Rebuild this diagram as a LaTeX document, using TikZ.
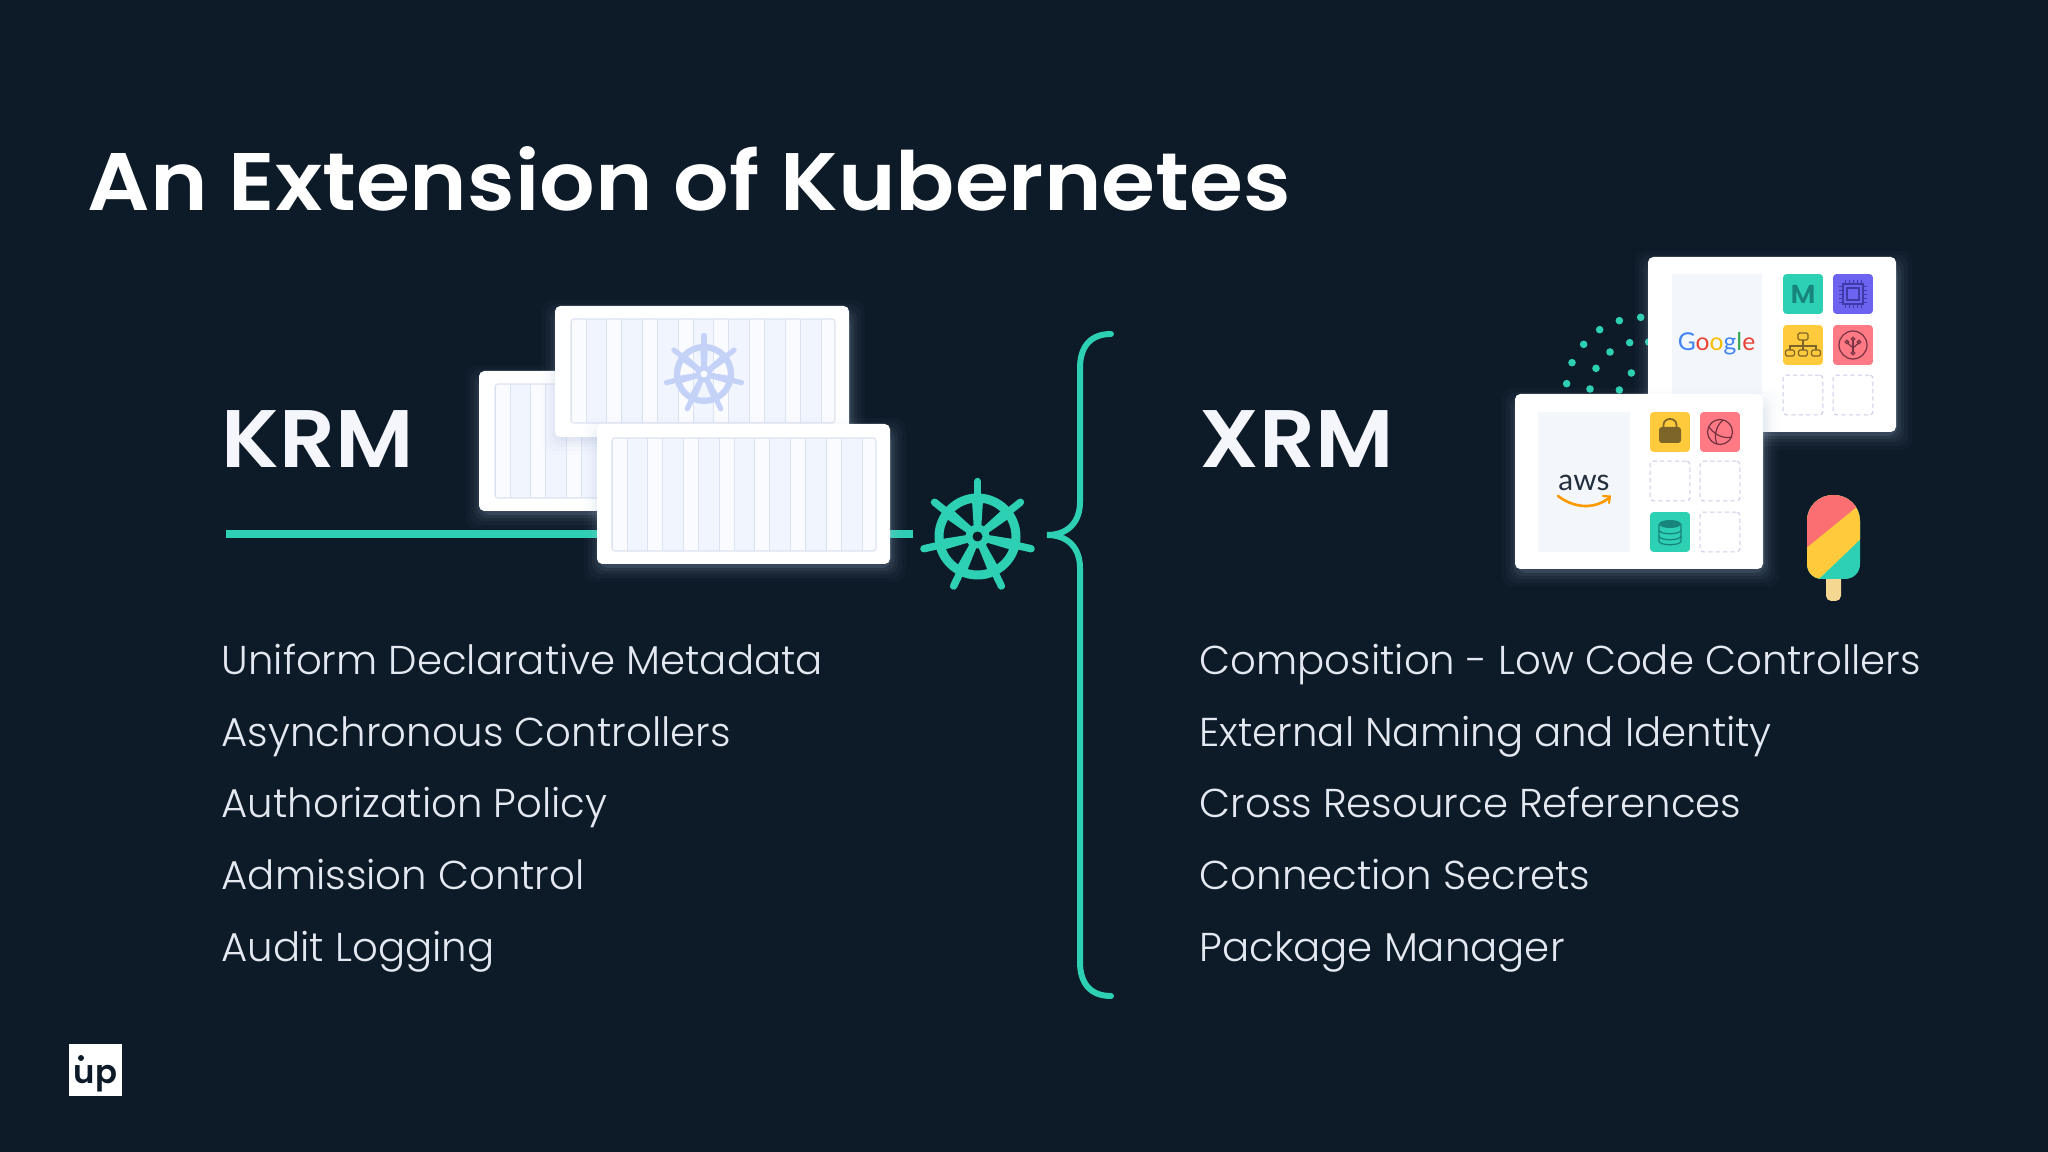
\documentclass[tikz,border=0pt]{standalone}
\usepackage{fontspec}
\setmainfont{Poppins}[BoldFont=* SemiBold]
\newfontfamily\lightfont{Poppins}[UprightFont=* Light]
\newfontfamily\headfont{Poppins}[UprightFont=* SemiBold, FakeStretch=1.07]
\newfontfamily\logofont{Lato}
\usetikzlibrary{calc}

\definecolor{bgdark}{HTML}{0D1B29}
\definecolor{teal}{HTML}{2DD0B3}
\definecolor{sunny}{HTML}{FFCB3D}
\definecolor{coral}{HTML}{FF7A85}
\definecolor{melon}{HTML}{FB6F72}
\definecolor{violet}{HTML}{6C63F0}
\definecolor{listtext}{HTML}{E4E8F0}
\definecolor{headtext}{HTML}{F4F6FB}
\definecolor{panelblue}{HTML}{F0F5FE}
\definecolor{panelpale}{HTML}{F9FBFF}
\definecolor{panelline}{HTML}{DCE2F1}
\definecolor{helmpale}{HTML}{C5D2F8}
\definecolor{cloudpanel}{HTML}{F3F7FC}
\definecolor{dashline}{HTML}{C8CCE8}
\definecolor{glow}{HTML}{A9BAD6}
\definecolor{awsorange}{HTML}{FF9900}
\definecolor{awsink}{HTML}{232F3E}
\definecolor{tealink}{HTML}{17857A}
\definecolor{chipink}{HTML}{3F3AA8}
\definecolor{sunnyink}{HTML}{7D6428}
\definecolor{coralink}{HTML}{783241}
\definecolor{stickwood}{HTML}{F5D791}
\definecolor{gblue}{HTML}{4285F4}
\definecolor{gred}{HTML}{EA4335}
\definecolor{gyellow}{HTML}{FBBC05}
\definecolor{ggreen}{HTML}{34A853}

\tikzset{
  heading/.style = {anchor=base west, inner sep=0, text=headtext, font=\headfont\fontsize{23.2}{28}\selectfont},
  listitem/.style = {anchor=base west, inner sep=0, text=listtext, font=\lightfont\fontsize{11.45}{14}\selectfont},
  tile/.style = {minimum size=11.34pt, inner sep=0, rounded corners=1pt},
  emptytile/.style = {tile, draw=dashline, line width=.3pt, dash pattern=on 1.2pt off .9pt},
  icon/.style = {line width=.35pt, fill=none}
}

% x y scale colour hole
\newcommand{\helmwheel}[5]{
  \begin{scope}[shift={(#1,#2)}, scale=#3]
    \draw[#4, line width=2.55pt*#3] (0,0) circle (38.5);
    \foreach \a in {0,...,6} {
      \fill[#4, rotate=\a*51.43] (-3.5,-5) -- (-5.5,-36) -- (5.5,-36) -- (3.5,-5) -- cycle;
      \draw[#4, rotate=\a*51.43, line width=2.1pt*#3, line cap=round] (0,-40) -- (0,-55);
    }
    \fill[#4] (0,0) circle (12);
    \fill[#5] (0,0) circle (5);
  \end{scope}
}

% x1 y1 x2 y2
\newcommand{\cardbox}[4]{
  \foreach \g/\o in {16/.025, 12/.04, 8/.06, 5/.08, 2/.12}
    \fill[glow, opacity=\o, rounded corners=3pt] (#1-\g+3,#2-\g+10) rectangle (#3+\g,#4+\g+2);
  \fill[white, rounded corners=1.5pt] (#1,#2) rectangle (#3,#4);
}

% x1 y1 x2 y2
\newcommand{\cargopanel}[4]{
  \begin{scope}
    \clip[rounded corners=.8pt] (#1,#2) rectangle (#3,#4);
    \fill[panelblue] (#1,#2) rectangle (#3,#4);
    \foreach \i in {0,...,7} {
      \fill[panelpale] (#1+\i*35.7,#2) rectangle (#1+\i*35.7+15,#4);
      \draw[panelline, line width=.2pt] (#1+\i*35.7+15,#2) -- (#1+\i*35.7+15,#4);
      \draw[panelline, line width=.2pt] (#1+\i*35.7,#2) -- (#1+\i*35.7,#4);
    }
  \end{scope}
  \draw[panelline, line width=.3pt, rounded corners=.8pt] (#1,#2) rectangle (#3,#4);
}

\begin{document}
\begin{tikzpicture}[x=.01cm, y=-.01cm]
  \useasboundingbox (0,0) rectangle (2048,1152);
  \fill[bgdark] (0,0) rectangle (2048,1152);

  \node[heading, text=white] (title) at (87,210.5) {An Extension of Kubernetes};
  \node[heading] (krm) at (221,468) {KRM};
  \node[heading] (xrm) at (1199,468) {XRM};

  % left column
  \coordinate (linestart) at (226,534);
  \coordinate (lineend) at (913,534);
  \draw[teal, line width=2pt] (linestart) -- (lineend);
  \cardbox{479}{371}{773}{511}
  \cargopanel{495}{384}{760}{498}
  \cardbox{555}{306}{849}{437}
  \cargopanel{571}{319}{835}{423}
  \helmwheel{704}{374}{.7}{helmpale}{panelpale}
  \cardbox{597}{424}{890}{564}
  \cargopanel{612}{438}{876}{551}
  \helmwheel{977.5}{536.5}{1}{teal}{bgdark}

  \node[listitem] (left1) at (221,675) {Uniform Declarative Metadata};
  \node[listitem] (left2) at (221,746) {Asynchronous Controllers};
  \node[listitem] (left3) at (221,817.5) {Authorization Policy};
  \node[listitem] (left4) at (221,889) {Admission Control};
  \node[listitem] (left5) at (221,961) {Audit Logging};

  % brace
  \draw[teal, line width=1.7pt, line cap=round] (1111,334) .. controls (1091,334) and (1080,346) .. (1080,368)
    -- (1080,502) .. controls (1080,522) and (1068,535) .. (1047,535)
    .. controls (1068,535) and (1080,548) .. (1080,568)
    -- (1080,962) .. controls (1080,984) and (1091,996) .. (1111,996);

  % right column
  \foreach \x/\y in {422/232, 358/242, 299/269, 251/313, 216/368, 200/431, 389/308, 330/336, 288/385, 270/447, 394/399, 358/450, 446/306}
    \fill[teal] (1500+\x/3,240+\y/3) circle (3.8);

  \cardbox{1648}{257}{1896}{432}
  \fill[cloudpanel] (1672,274) rectangle (1762,400);
  \node[anchor=base, inner sep=0, font=\logofont\fontsize{7}{8}\selectfont] (google) at (1716.5,351)
    {\textcolor{gblue}{G}\textcolor{gred}{o}\textcolor{gyellow}{o}\textcolor{gblue}{g}\textcolor{ggreen}{l}\textcolor{gred}{e}};
  \node[tile, fill=teal, text=tealink, font=\headfont\fontsize{7.4}{9}\selectfont] (mtile) at (1803,294) {M};
  \node[tile, fill=violet] (chiptile) at (1853,294) {};
  \node[tile, fill=sunny] (orgtile) at (1803,345) {};
  \node[tile, fill=coral] (treetile) at (1853,345) {};
  \node[emptytile] (gslot1) at (1803,395) {};
  \node[emptytile] (gslot2) at (1853,395) {};

  \cardbox{1515}{394}{1763}{569}
  \fill[cloudpanel] (1538,412) rectangle (1630,552);
  \node[anchor=base, inner sep=0, text=awsink, font=\logofont\fontsize{8.5}{9}\selectfont] (aws) at (1584,491) {aws};
  \draw[awsorange, line width=.75pt, line cap=round] (1558,496) .. controls (1575,509) and (1595,509) .. (1609,498);
  \draw[awsorange, line width=.6pt, line cap=round] (1603,496) -- (1610,496.5) -- (1609,503);
  \node[tile, fill=sunny] (locktile) at (1670,432) {};
  \node[tile, fill=coral] (globetile) at (1720,432) {};
  \node[emptytile] (aslot1) at (1670,481) {};
  \node[emptytile] (aslot2) at (1720,481) {};
  \node[tile, fill=teal] (dbtile) at (1670,532) {};
  \node[emptytile] (aslot3) at (1720,532) {};

  % chip icon
  \begin{scope}[shift={(chiptile.center)}, draw=chipink]
    \draw[icon] (-10,-10) rectangle (10,10);
    \draw[icon] (-6,-6) rectangle (6,6);
    \foreach \t in {-8,-4,0,4,8} {
      \draw[icon, line width=.25pt] (\t,-10) -- (\t,-14);
      \draw[icon, line width=.25pt] (\t,10) -- (\t,14);
      \draw[icon, line width=.25pt] (-10,\t) -- (-14,\t);
      \draw[icon, line width=.25pt] (10,\t) -- (14,\t);
    }
  \end{scope}
  % org chart icon
  \begin{scope}[shift={(orgtile.center)}, draw=sunnyink]
    \draw[icon, rounded corners=.4pt] (-5,-12) rectangle (5,-5);
    \draw[icon] (0,-5) -- (0,5);
    \draw[icon] (-13,5) -- (-13,1) -- (13,1) -- (13,5);
    \foreach \t in {-13,0,13}
      \draw[icon, rounded corners=.4pt] (\t-4.5,5) rectangle (\t+4.5,11);
  \end{scope}
  % tree icon
  \begin{scope}[shift={(treetile.center)}, draw=coralink]
    \draw[icon] (0,0) circle (14);
    \draw[icon] (0,7) -- (0,-5);
    \draw[icon] (-5.5,-2) -- (0,3) -- (5.5,-2);
    \foreach \p in {(-6,-3),(6,-3),(0,-6),(0,8)}
      \draw[icon, fill=coral] \p circle (1.8);
  \end{scope}
  % lock icon
  \begin{scope}[shift={(locktile.center)}]
    \fill[sunnyink, rounded corners=.8pt] (-11,-5) rectangle (11,11);
    \draw[sunnyink, line width=.5pt] (-6.5,-5) -- (-6.5,-7) .. controls (-6.5,-15) and (6.5,-15) .. (6.5,-7) -- (6.5,-5);
  \end{scope}
  % globe icon
  \begin{scope}[shift={(globetile.center)}, draw=coralink]
    \draw[icon] (0,0) circle (12.5);
    \draw[icon] (-11,-5) .. controls (-5,3) and (3,7) .. (12,5);
    \draw[icon] (3,-12) .. controls (-5,-5) and (-6,5) .. (-3,12);
  \end{scope}
  % database icon
  \begin{scope}[shift={(dbtile.center)}, draw=tealink]
    \fill[tealink] (0,-8) ellipse (11 and 4);
    \draw[icon] (-11,-8) -- (-11,9) .. controls (-11,14) and (11,14) .. (11,9) -- (11,-8);
    \draw[icon] (-11,-2) .. controls (-11,3) and (11,3) .. (11,-2);
    \draw[icon] (-11,4) .. controls (-11,9) and (11,9) .. (11,4);
  \end{scope}

  % popsicle
  \fill[stickwood, rounded corners=1.5pt] (1826,570) rectangle (1841,601);
  \begin{scope}
    \clip (1807,521) .. controls (1807,506) and (1819,495) .. (1833.5,495)
      .. controls (1848,495) and (1860,506) .. (1860,521) -- (1860,564)
      .. controls (1860,573) and (1853,579) .. (1845,579) -- (1822,579)
      .. controls (1814,579) and (1807,573) .. (1807,564) -- cycle;
    \fill[teal] (1800,490) rectangle (1870,590);
    \fill[sunny] (1800,490) -- (1870,490) -- (1870,530) -- (1800,597) -- cycle;
    \fill[melon] (1800,490) -- (1870,490) -- (1870,496) -- (1800,553) -- cycle;
  \end{scope}

  \node[listitem] (right1) at (1199,675) {Composition - Low Code Controllers};
  \node[listitem] (right2) at (1199,746) {External Naming and Identity};
  \node[listitem] (right3) at (1199,817.5) {Cross Resource References};
  \node[listitem] (right4) at (1199,889) {Connection Secrets};
  \node[listitem] (right5) at (1199,961) {Package Manager};

  % logo
  \node[fill=white, minimum size=14.9pt, inner sep=0] (logo) at (95.5,1070) {};
  \node[anchor=base, inner sep=0, text=bgdark, font=\fontsize{9.2}{10}\selectfont\bfseries] (logotext) at (95.5,1083) {up};
  \fill[bgdark] (81,1058) circle (3);
\end{tikzpicture}
\end{document}
